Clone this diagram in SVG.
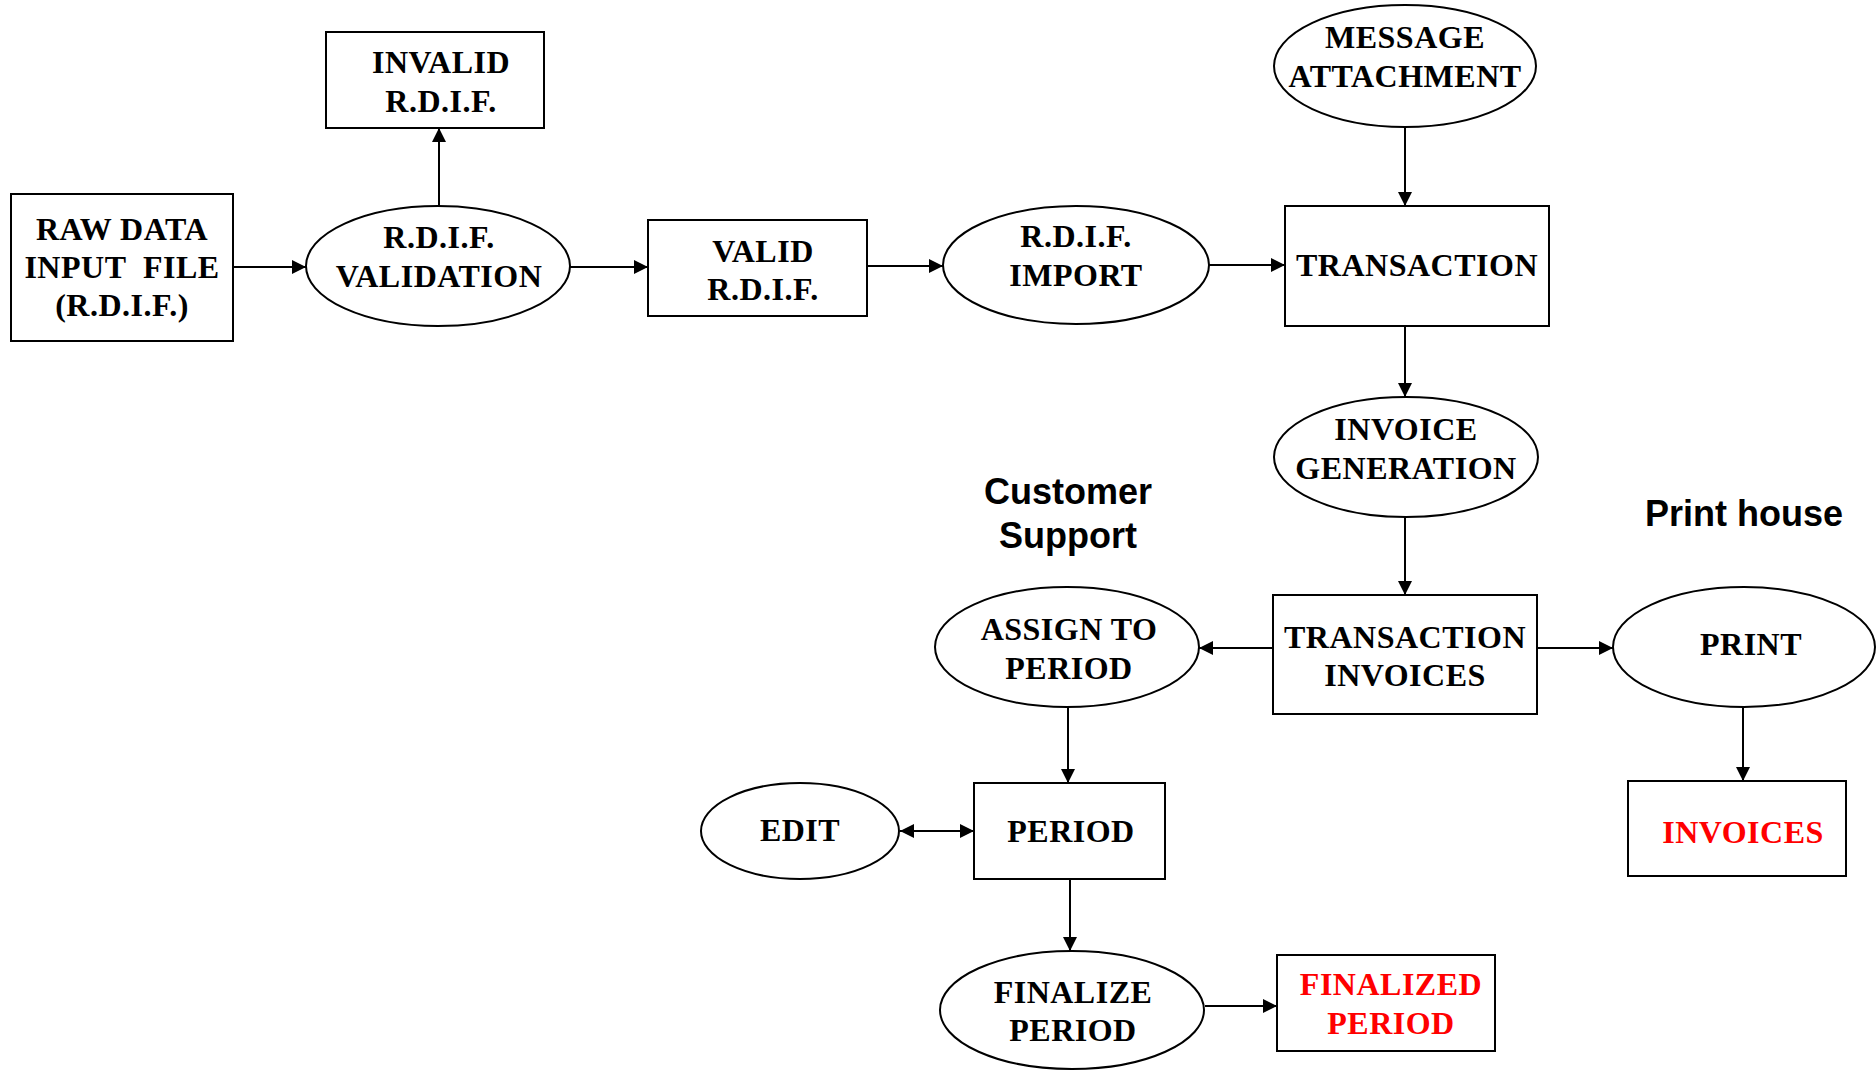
<svg xmlns="http://www.w3.org/2000/svg" width="1876" height="1070" viewBox="0 0 1876 1070">
<style>
.shape{fill:#fff;stroke:#000;stroke-width:2}
.t{font-family:"Liberation Serif","Times New Roman",serif;font-weight:bold;font-size:32px;letter-spacing:0.5px;fill:#000;text-anchor:middle}
.red{fill:#ff0000}
.lbl{font-family:"Liberation Sans",Arial,sans-serif;font-weight:bold;font-size:36px;fill:#000;text-anchor:middle}
.c{stroke:#000;stroke-width:2;fill:none}
</style>
<defs>
<marker id="ah" markerUnits="userSpaceOnUse" markerWidth="14" markerHeight="14" refX="14" refY="7" orient="auto-start-reverse" viewBox="0 0 14 14">
<path d="M0,0 L14,7 L0,14 z" fill="#000"/>
</marker>
</defs>
<rect width="1876" height="1070" fill="#fff"/>

<g id="connectors">
<line class="c" x1="233" y1="267" x2="306" y2="267" marker-end="url(#ah)"/>
<line class="c" x1="439" y1="206" x2="439" y2="128" marker-end="url(#ah)"/>
<line class="c" x1="570" y1="267" x2="648" y2="267" marker-end="url(#ah)"/>
<line class="c" x1="867" y1="266" x2="943" y2="266" marker-end="url(#ah)"/>
<line class="c" x1="1209" y1="265" x2="1285" y2="265" marker-end="url(#ah)"/>
<line class="c" x1="1405" y1="128" x2="1405" y2="206" marker-end="url(#ah)"/>
<line class="c" x1="1405" y1="326" x2="1405" y2="397" marker-end="url(#ah)"/>
<line class="c" x1="1405" y1="517" x2="1405" y2="595" marker-end="url(#ah)"/>
<line class="c" x1="1273" y1="648" x2="1199" y2="648" marker-end="url(#ah)"/>
<line class="c" x1="1537" y1="648" x2="1613" y2="648" marker-end="url(#ah)"/>
<line class="c" x1="1743" y1="707" x2="1743" y2="781" marker-end="url(#ah)"/>
<line class="c" x1="1068" y1="707" x2="1068" y2="783" marker-end="url(#ah)"/>
<line class="c" x1="900" y1="831" x2="974" y2="831" marker-start="url(#ah)" marker-end="url(#ah)"/>
<line class="c" x1="1070" y1="879" x2="1070" y2="951" marker-end="url(#ah)"/>
<line class="c" x1="1205" y1="1006" x2="1277" y2="1006" marker-end="url(#ah)"/>
</g>

<g id="raw-data">
<rect class="shape" x="11" y="194" width="222" height="147"/>
<text class="t" x="122" y="240">RAW DATA</text>
<text class="t" x="122" y="278" xml:space="preserve">INPUT  FILE</text>
<text class="t" x="122" y="316">(R.D.I.F.)</text>
</g>

<g id="rdif-validation">
<ellipse class="shape" cx="438" cy="266" rx="132" ry="60"/>
<text class="t" x="439" y="248">R.D.I.F.</text>
<text class="t" x="439" y="287">VALIDATION</text>
</g>

<g id="invalid-rdif">
<rect class="shape" x="326" y="32" width="218" height="96"/>
<text class="t" x="441" y="73">INVALID</text>
<text class="t" x="441" y="112">R.D.I.F.</text>
</g>

<g id="valid-rdif">
<rect class="shape" x="648" y="220" width="219" height="96"/>
<text class="t" x="763" y="262">VALID</text>
<text class="t" x="763" y="300">R.D.I.F.</text>
</g>

<g id="rdif-import">
<ellipse class="shape" cx="1076" cy="265" rx="133" ry="59"/>
<text class="t" x="1076" y="247">R.D.I.F.</text>
<text class="t" x="1076" y="286">IMPORT</text>
</g>

<g id="message-attachment">
<ellipse class="shape" cx="1405" cy="66" rx="131" ry="61"/>
<text class="t" x="1405" y="48">MESSAGE</text>
<text class="t" x="1405" y="87">ATTACHMENT</text>
</g>

<g id="transaction">
<rect class="shape" x="1285" y="206" width="264" height="120"/>
<text class="t" x="1417" y="276">TRANSACTION</text>
</g>

<g id="invoice-generation">
<ellipse class="shape" cx="1406" cy="457" rx="132" ry="60"/>
<text class="t" x="1406" y="440">INVOICE</text>
<text class="t" x="1406" y="479">GENERATION</text>
</g>

<g id="customer-support-label">
<text class="lbl" x="1068" y="504">Customer</text>
<text class="lbl" x="1068" y="548">Support</text>
</g>

<g id="print-house-label">
<text class="lbl" x="1744" y="526">Print house</text>
</g>

<g id="transaction-invoices">
<rect class="shape" x="1273" y="595" width="264" height="119"/>
<text class="t" x="1405" y="648">TRANSACTION</text>
<text class="t" x="1405" y="686">INVOICES</text>
</g>

<g id="assign-to-period">
<ellipse class="shape" cx="1067" cy="647" rx="132" ry="60"/>
<text class="t" x="1069" y="640">ASSIGN TO</text>
<text class="t" x="1069" y="679">PERIOD</text>
</g>

<g id="print">
<ellipse class="shape" cx="1744" cy="647" rx="131" ry="60"/>
<text class="t" x="1751" y="655">PRINT</text>
</g>

<g id="invoices">
<rect class="shape" x="1628" y="781" width="218" height="95"/>
<text class="t red" x="1743" y="843">INVOICES</text>
</g>

<g id="edit">
<ellipse class="shape" cx="800" cy="831" rx="99" ry="48"/>
<text class="t" x="800" y="841">EDIT</text>
</g>

<g id="period">
<rect class="shape" x="974" y="783" width="191" height="96"/>
<text class="t" x="1071" y="842">PERIOD</text>
</g>

<g id="finalize-period">
<ellipse class="shape" cx="1072" cy="1010" rx="132" ry="59"/>
<text class="t" x="1073" y="1003">FINALIZE</text>
<text class="t" x="1073" y="1041">PERIOD</text>
</g>

<g id="finalized-period">
<rect class="shape" x="1277" y="955" width="218" height="96"/>
<text class="t red" x="1391" y="995">FINALIZED</text>
<text class="t red" x="1391" y="1034">PERIOD</text>
</g>
</svg>
